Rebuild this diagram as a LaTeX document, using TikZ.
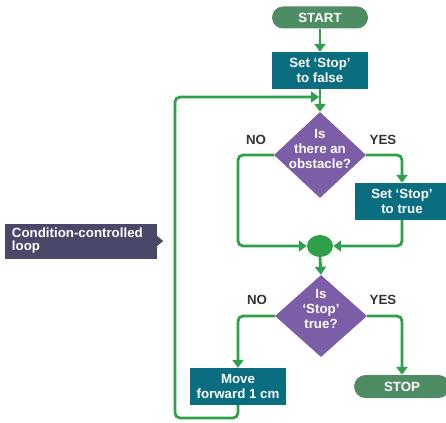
\documentclass[tikz,border=0pt]{standalone}
\usepackage{fontspec}
\setmainfont{Liberation Sans}
\usetikzlibrary{shapes.geometric,shapes.misc,arrows.meta}
\definecolor{lgreen}{HTML}{2EA04A}
\definecolor{pillgreen}{HTML}{4E8C64}
\definecolor{teal}{HTML}{0B6E80}
\definecolor{dpurple}{HTML}{7B5EA7}
\definecolor{slate}{HTML}{4A4868}
\definecolor{lbl}{HTML}{333333}
\tikzset{
  txt/.style={text=white, align=center, inner sep=0},
  pill/.style={rounded rectangle, fill=pillgreen, text=white, minimum height=22, inner sep=0},
  proc/.style={rectangle, fill=teal, text=white, align=center, minimum height=37, inner sep=0},
  dia/.style={diamond, fill=dpurple, inner sep=0},
  yn/.style={text=lbl, inner sep=0},
  conn/.style={draw=lgreen, line width=2.8pt, rounded corners=5pt},
  arr/.style={conn, -{Triangle[width=11pt,length=8pt]}},
}
\begin{document}
\begin{tikzpicture}[x=1pt,y=-1pt,font=\bfseries\fontsize{13.3}{15}\selectfont]
\useasboundingbox (0,0) rectangle (446,422);
\fill[white] (0,0) rectangle (446,422);

% nodes
\node[pill, minimum width=96] (start) at (320,17.5) {START};
\node[proc, minimum width=96] (set1) at (320,70.5) {Set ‘Stop’\\to false};
\node[dia, minimum width=92, minimum height=86] (d1) at (320,155) {};
\node[txt] (d1t) at (320,149) {Is\\there an\\obstacle?};
\node[proc, minimum width=94] (set2) at (402,201.5) {Set ‘Stop’\\to true};
\node[ellipse, fill=lgreen, minimum width=26, minimum height=22, inner sep=0] (m) at (320,246) {};
\node[dia, minimum width=92, minimum height=82] (d2) at (321,316) {};
\node[txt] (d2t) at (321,309) {Is\\‘Stop’\\true?};
\node[proc, minimum width=96] (move) at (238,386.5) {Move\\forward 1 cm};
\node[pill, minimum width=96, minimum height=23] (stop) at (402,386.5) {STOP};

\node[yn] (no1) at (256,140) {NO};
\node[yn] (yes1) at (383,140) {YES};
\node[yn] (no2) at (257,300) {NO};
\node[yn] (yes2) at (383,300) {YES};

% callout
\node[rectangle, fill=slate, text=white, align=left, minimum width=152, minimum height=35, inner sep=0, text width=138, font=\bfseries\fontsize{13.3}{13}\selectfont] (call) at (81,241) {Condition-controlled\\loop};
\fill[slate] (call.east) ++(0,-5) -- ++(6,5) -- ++(-6,5) -- cycle;

% coordinates
\coordinate (loopin) at (320,97);
\coordinate (loopb) at (238,418);
\coordinate (loopl) at (175,418);
\coordinate (loopt) at (175,97);
\coordinate (noL) at (238,246);
\coordinate (yesR) at (402,246);

% connectors
\draw[arr] (start.south) -- (set1.north);
\draw[arr] (set1.south) -- (d1.north);
\draw[arr] (move.south) -- (loopb) -- (loopl) -- (loopt) -- ([xshift=-1pt]loopin);
\draw[arr] (d1.west) -| (noL) -- (m.west);
\draw[arr] (d1.east) -| (set2.north);
\draw[arr] (set2.south) -- (yesR) -- (m.east);
\draw[arr] (m.south) -- (d2.north);
\draw[arr] (d2.west) -| (move.north);
\draw[arr] (d2.east) -| (stop.north);
\end{tikzpicture}
\end{document}
